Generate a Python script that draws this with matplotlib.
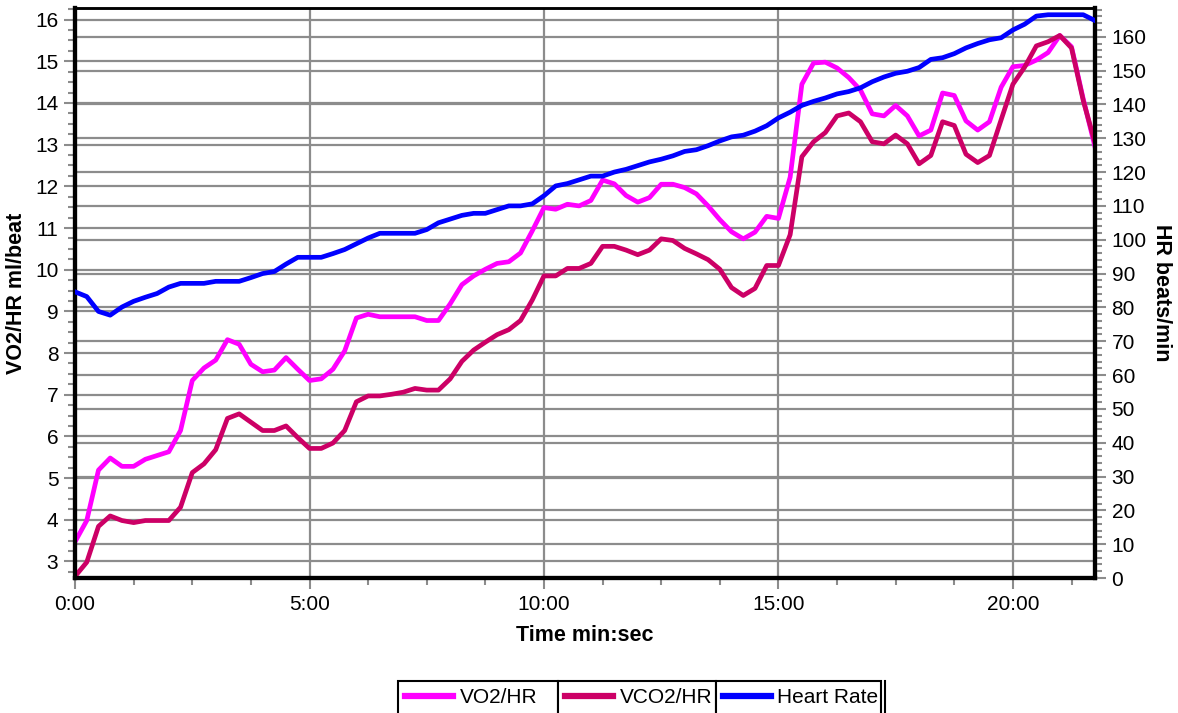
import numpy as np
import matplotlib
matplotlib.use("Agg")
from matplotlib import pyplot as plt
from matplotlib.ticker import MultipleLocator, FuncFormatter

plt.rcParams['font.family'] = ['Liberation Sans', 'DejaVu Sans']

# time in minutes, one sample every 15 s
time_min = np.arange(0, 88) * 0.25

vo2_hr = [3.47, 3.98, 5.19, 5.48, 5.28, 5.28, 5.45, 5.54, 5.63, 6.14,
          7.34, 7.64, 7.83, 8.32, 8.21, 7.73, 7.55, 7.59, 7.89, 7.61,
          7.34, 7.38, 7.61, 8.05, 8.84, 8.93, 8.87, 8.87, 8.87, 8.87,
          8.78, 8.78, 9.18, 9.64, 9.85, 10.01, 10.15, 10.19, 10.40, 10.93,
          11.49, 11.45, 11.57, 11.53, 11.66, 12.15, 12.06, 11.78, 11.62, 11.73,
          12.05, 12.05, 11.97, 11.82, 11.53, 11.20, 10.91, 10.74, 10.90, 11.28,
          11.23, 12.22, 14.45, 14.96, 14.98, 14.84, 14.61, 14.31, 13.74, 13.69,
          13.94, 13.69, 13.21, 13.35, 14.24, 14.18, 13.57, 13.35, 13.55, 14.38,
          14.87, 14.90, 15.03, 15.21, 15.62, 15.35, 14.10, 12.95]

vco2_hr = [2.64, 2.98, 3.84, 4.09, 3.98, 3.93, 3.98, 3.98, 3.98, 4.30,
           5.13, 5.34, 5.68, 6.43, 6.54, 6.34, 6.14, 6.14, 6.25, 5.97,
           5.71, 5.71, 5.84, 6.14, 6.83, 6.97, 6.97, 7.01, 7.06, 7.15,
           7.11, 7.11, 7.38, 7.80, 8.07, 8.26, 8.44, 8.56, 8.78, 9.27,
           9.85, 9.85, 10.03, 10.03, 10.15, 10.56, 10.56, 10.47, 10.36, 10.47,
           10.74, 10.70, 10.51, 10.38, 10.24, 10.01, 9.57, 9.38, 9.55, 10.10,
           10.10, 10.84, 12.71, 13.07, 13.29, 13.69, 13.76, 13.55, 13.07, 13.02,
           13.23, 13.02, 12.54, 12.74, 13.55, 13.46, 12.77, 12.57, 12.74, 13.60,
           14.45, 14.86, 15.37, 15.47, 15.62, 15.32, 14.06, 13.05]

heart_rate = [84.6, 83.2, 78.8, 77.7, 80.1, 81.8, 83.0, 84.1, 86.0, 87.1,
              87.1, 87.1, 87.7, 87.7, 87.7, 88.8, 90.0, 90.6, 92.8, 94.8,
              94.8, 94.8, 95.9, 97.1, 98.8, 100.5, 101.9, 101.9, 101.9, 101.9,
              103.0, 105.0, 106.1, 107.2, 107.8, 107.8, 108.9, 110.0, 110.0, 110.6,
              113.0, 115.9, 116.6, 117.7, 118.8, 118.8, 120.0, 120.8, 121.9, 123.0,
              123.8, 124.8, 126.1, 126.6, 127.8, 129.2, 130.4, 130.9, 132.1, 133.7,
              136.0, 137.7, 139.7, 140.9, 141.9, 143.1, 143.8, 144.9, 146.7, 148.1,
              149.2, 149.8, 150.9, 153.3, 153.8, 155.0, 156.7, 158.0, 159.1, 159.7,
              162.0, 163.7, 166.1, 166.5, 166.5, 166.5, 166.5, 164.8]

left_lim = (2.6, 16.28)
right_lim = (0, 168.5)
grid_col = '#8c8c8c'

fig = plt.figure(figsize=(11.78, 7.13), dpi=100)
ax = fig.add_axes([0.0637, 0.1893, 0.8658, 0.7995])
ax2 = ax.twinx()

# grid: left integer lines, vertical 5 min lines, and the right axis 10 bpm lines
ax.set_ylim(*left_lim)
ax.set_xlim(0, time_min[-1])
ax.yaxis.set_major_locator(MultipleLocator(1))
ax.yaxis.set_minor_locator(MultipleLocator(0.25))
ax.xaxis.set_major_locator(MultipleLocator(5))
ax.xaxis.set_minor_locator(MultipleLocator(1.25))
ax.grid(True, which='major', color=grid_col, lw=1.6, zorder=0)
for hr in range(0, 170, 10):
    y = left_lim[0] + (hr - right_lim[0]) / (right_lim[1] - right_lim[0]) * (left_lim[1] - left_lim[0])
    ax.axhline(y, color=grid_col, lw=1.6, zorder=0)

l1, = ax.plot(time_min, vo2_hr, color='#ff00ff', lw=3.4, label='VO2/HR', zorder=3)
l2, = ax.plot(time_min, vco2_hr, color='#cc0066', lw=3.4, label='VCO2/HR', zorder=4)
l3, = ax2.plot(time_min, heart_rate, color='#0000ff', lw=3.4, label='Heart Rate', zorder=3)

ax2.set_ylim(*right_lim)
ax2.yaxis.set_major_locator(MultipleLocator(10))
ax2.yaxis.set_minor_locator(MultipleLocator(2))

ax.xaxis.set_major_formatter(FuncFormatter(lambda x, p: "%d:%02d" % (int(x), round((x % 1) * 60))))

for a in (ax, ax2):
    a.tick_params(which='major', direction='out', length=8, width=1.5, color=grid_col,
                  labelsize=15, pad=4)
    a.tick_params(which='minor', direction='out', length=5, width=1.5, color=grid_col)
    for s in ('left', 'right', 'bottom'):
        a.spines[s].set_linewidth(3)
        a.spines[s].set_color('black')
    a.spines['top'].set_linewidth(1.8)

ax.set_xlabel('Time min:sec', fontsize=15.5, fontweight='bold', labelpad=8)
ax.set_ylabel('VO2/HR ml/beat', fontsize=15.5, fontweight='bold', labelpad=6)
ax2.set_ylabel('HR beats/min', fontsize=15.5, fontweight='bold', rotation=-90, labelpad=18)

# legend: three adjoining boxes
top = 1 - 681 / 713
boxes = [(398, 160, l1), (558, 158, l2), (716, 165, l3)]
for x0, w, ln in boxes:
    leg = fig.legend(handles=[ln], loc='upper left', fontsize=15,
                     bbox_to_anchor=(x0 / 1178, 0, w / 1178, top), mode='expand',
                     fancybox=False, edgecolor='black', framealpha=1,
                     handlelength=2.3, handletextpad=0.3, borderpad=0.35, borderaxespad=0)
    leg.get_frame().set_linewidth(1.5)
    for lh in leg.get_lines():
        lh.set_linewidth(4.5)
fig.add_artist(plt.Line2D([885 / 1178, 885 / 1178], [0, top], color='black', lw=1.5))

plt.savefig('out.png')
